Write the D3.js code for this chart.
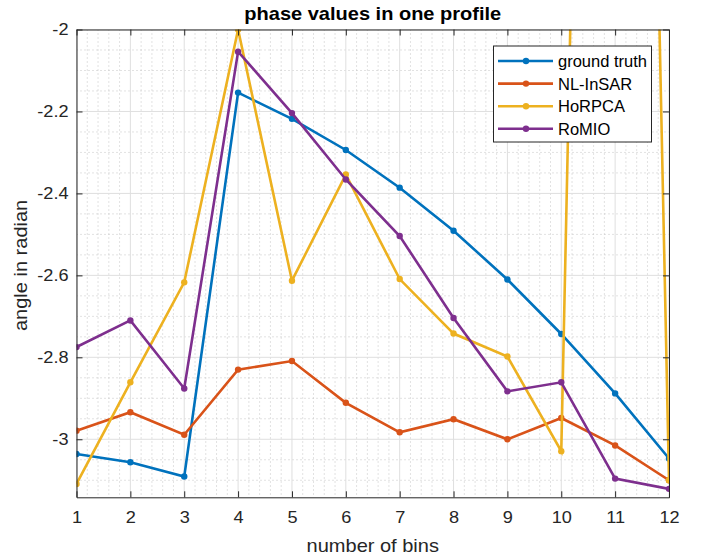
<!DOCTYPE html>
<html>
<head>
<meta charset="utf-8">
<script src="https://cdn.jsdelivr.net/npm/d3@7"></script>
<style>
  html, body { margin: 0; padding: 0; background: #fff; }
  svg { display: block; font-family: "Liberation Sans", Arial, Helvetica, sans-serif; }
</style>
</head>
<body>
<svg id="chart" width="706" height="556"></svg>
<script>
// Phase profile per bin for each method
const bins = [1, 2, 3, 4, 5, 6, 7, 8, 9, 10, 11, 12];
const groundTruth = [-3.036, -3.056, -3.091, -2.154, -2.218, -2.294, -2.386, -2.491, -2.610, -2.743, -2.888, -3.047];
const nlInsar     = [-2.979, -2.934, -2.989, -2.830, -2.809, -2.911, -2.983, -2.951, -3.000, -2.948, -3.015, -3.100];
const hoRpca      = [-3.109, -2.861, -2.617, -2.000, -2.613, -2.354, -2.609, -2.742, -2.798, -3.029, 3.150, -3.100];
const roMio       = [-2.775, -2.710, -2.876, -2.054, -2.204, -2.366, -2.504, -2.704, -2.883, -2.861, -3.096, -3.121];

const seriesNames  = ["ground truth", "NL-InSAR", "HoRPCA", "RoMIO"];
const seriesValues = [groundTruth, nlInsar, hoRpca, roMio];
const seriesColors = ["#0072BD", "#D95319", "#EDB120", "#7E2F8E"];

const xTicks = [1, 2, 3, 4, 5, 6, 7, 8, 9, 10, 11, 12];
const yTicks = [-3, -2.8, -2.6, -2.4, -2.2, -2];
const yTickLabels = ["-3", "-2.8", "-2.6", "-2.4", "-2.2", "-2"];
const yMin = -Math.PI, yMax = -2;

const svg = d3.select("#chart");
const pLeft = 76.5, pRight = 669, pTop = 29.5, pBottom = 497.3;
const W = pRight - pLeft, H = pBottom - pTop;

const x = d3.scaleLinear().domain([1, 12]).range([pLeft, pRight]);
const y = d3.scaleLinear().domain([yMin, yMax]).range([pBottom, pTop]);

const axisColor = "#262626";
const fontFam = "'Liberation Sans', Arial, Helvetica, sans-serif";
const stretch = 1.1;   // horizontal widening of axis text

// minor grid (dotted)
const xMinor = d3.range(1, 12.0001, 0.2).filter(v => Math.abs(v - Math.round(v)) > 1e-6);
const yMinor = d3.range(-3.1, -2.0001, 0.05).filter(v => Math.abs(v * 5 - Math.round(v * 5)) > 1e-6);
const grid = svg.append("g");
grid.selectAll("line.xm").data(xMinor).join("line")
  .attr("x1", d => x(d)).attr("x2", d => x(d)).attr("y1", pTop).attr("y2", pBottom)
  .attr("stroke", "#c4c4c4").attr("stroke-width", 1).attr("stroke-dasharray", "1,3");
grid.selectAll("line.ym").data(yMinor).join("line")
  .attr("x1", pLeft).attr("x2", pRight).attr("y1", d => y(d)).attr("y2", d => y(d))
  .attr("stroke", "#c4c4c4").attr("stroke-width", 1).attr("stroke-dasharray", "1,3");

// major grid
grid.selectAll("line.xg").data(xTicks).join("line")
  .attr("x1", d => x(d)).attr("x2", d => x(d)).attr("y1", pTop).attr("y2", pBottom)
  .attr("stroke", "#dfdfdf").attr("stroke-width", 1);
grid.selectAll("line.yg").data(yTicks).join("line")
  .attr("x1", pLeft).attr("x2", pRight).attr("y1", d => y(d)).attr("y2", d => y(d))
  .attr("stroke", "#dfdfdf").attr("stroke-width", 1);

// data lines, clipped to the axes box
svg.append("defs").append("clipPath").attr("id", "plotClip")
  .append("rect").attr("x", pLeft).attr("y", pTop).attr("width", W).attr("height", H);
const plot = svg.append("g").attr("clip-path", "url(#plotClip)");
const line = d3.line().x((d, i) => x(bins[i])).y(d => y(d));
seriesValues.forEach((vals, k) => {
  const g = plot.append("g");
  g.append("path").datum(vals).attr("d", line)
    .attr("fill", "none").attr("stroke", seriesColors[k]).attr("stroke-width", 2.6)
    .attr("stroke-linejoin", "miter");
  g.selectAll("circle").data(vals).join("circle")
    .attr("cx", (d, i) => x(bins[i])).attr("cy", d => y(d)).attr("r", 3.2)
    .attr("fill", seriesColors[k]);
});

// axes with inward ticks on all four sides
const tickLen = 6;
const xPad = 14, yPad = 8;
const xAxisB = d3.axisBottom(x).tickValues(xTicks).tickSizeInner(-tickLen).tickSizeOuter(0).tickPadding(xPad).tickFormat(d => String(d));
const xAxisT = d3.axisTop(x).tickValues(xTicks).tickSizeInner(-tickLen).tickSizeOuter(0).tickFormat("");
const yAxisL = d3.axisLeft(y).tickValues(yTicks).tickSizeInner(-tickLen).tickSizeOuter(0).tickPadding(yPad)
  .tickFormat((d, i) => yTickLabels[i]);
const yAxisR = d3.axisRight(y).tickValues(yTicks).tickSizeInner(-tickLen).tickSizeOuter(0).tickFormat("");

function styleAxis(g) {
  g.attr("font-size", 16.5).attr("font-family", fontFam);
  g.select(".domain").attr("stroke", axisColor).attr("stroke-width", 1);
  g.selectAll(".tick line").attr("stroke", axisColor).attr("stroke-width", 1);
  g.selectAll(".tick text").attr("fill", axisColor).attr("transform", `scale(${stretch},1)`);
}
svg.append("g").attr("transform", `translate(0,${pBottom})`).call(xAxisB).call(styleAxis);
svg.append("g").attr("transform", `translate(0,${pTop})`).call(xAxisT).call(styleAxis);
svg.append("g").attr("transform", `translate(${pLeft},0)`).call(yAxisL).call(styleAxis)
  .selectAll(".tick text").attr("x", -yPad / stretch);
svg.append("g").attr("transform", `translate(${pRight},0)`).call(yAxisR).call(styleAxis);

// title and axis labels
function label(px, py, rot, size, weight, color, txt) {
  svg.append("text")
    .attr("transform", `translate(${px},${py}) rotate(${rot}) scale(${stretch},1)`)
    .attr("text-anchor", "middle").attr("font-size", size).attr("font-weight", weight)
    .attr("fill", color).attr("font-family", fontFam).text(txt);
}
label((pLeft + pRight) / 2, 19.5, 0, 18.2, "bold", "#000", "phase values in one profile");
label((pLeft + pRight) / 2, 551.5, 0, 18.2, "normal", axisColor, "number of bins");

// rotated label: widen along the text direction
svg.append("text")
  .attr("transform", `translate(27,${(pTop + pBottom) / 2 + 2}) rotate(-90) scale(${stretch},1)`)
  .attr("text-anchor", "middle").attr("font-size", 18.2)
  .attr("fill", axisColor).attr("font-family", fontFam).text("angle in radian");

// legend
const lg = svg.append("g");
const lgX = 493.5, lgY = 46, lgW = 158, lgH = 96;
lg.append("rect").attr("x", lgX).attr("y", lgY).attr("width", lgW).attr("height", lgH)
  .attr("fill", "#fff").attr("stroke", axisColor).attr("stroke-width", 1);
seriesNames.forEach((name, k) => {
  const cy = 61 + k * 22.6;
  lg.append("line").attr("x1", 498).attr("x2", 553).attr("y1", cy).attr("y2", cy)
    .attr("stroke", seriesColors[k]).attr("stroke-width", 2.6);
  lg.append("circle").attr("cx", 526).attr("cy", cy).attr("r", 3.2).attr("fill", seriesColors[k]);
  lg.append("text").attr("x", 558).attr("y", cy + 6).attr("font-size", 16.5).attr("font-family", fontFam)
    .attr("fill", "#000").text(name);
});
</script>
</body>
</html>
